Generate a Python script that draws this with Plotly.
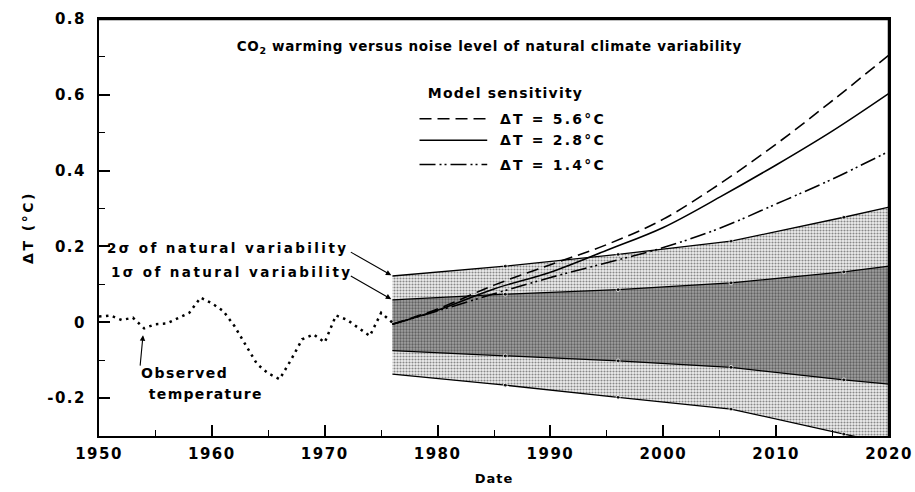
import plotly.graph_objects as go

# ---------------- data ----------------
obs_years = list(range(1950, 1977))
obs_temp = [0.015, 0.018, 0.006, 0.012, -0.016, -0.005, -0.003, 0.010, 0.025, 0.065,
            0.050, 0.030, -0.010, -0.060, -0.110, -0.135, -0.150, -0.100, -0.045, -0.032,
            -0.053, 0.018, 0.006, -0.015, -0.036, 0.025, -0.001]

band_years = [1976, 1986, 1996, 2006, 2016, 2020]
sig2_upper = [0.122, 0.148, 0.179, 0.214, 0.277, 0.304]
sig1_upper = [0.059, 0.074, 0.086, 0.104, 0.133, 0.148]
sig1_lower = [-0.075, -0.089, -0.102, -0.119, -0.152, -0.163]
sig2_lower = [-0.137, -0.166, -0.198, -0.229, -0.295, -0.320]

model_years = [1976, 1980, 1985, 1990, 1995, 2000, 2005, 2010, 2015, 2020]
dt_56 = [-0.005, 0.035, 0.098, 0.152, 0.205, 0.272, 0.365, 0.470, 0.585, 0.705]
dt_28 = [-0.005, 0.032, 0.088, 0.132, 0.190, 0.250, 0.330, 0.415, 0.505, 0.604]
dt_14 = [-0.005, 0.030, 0.075, 0.118, 0.157, 0.197, 0.248, 0.312, 0.378, 0.451]

model_labels = ["ΔT = 5.6°C", "ΔT = 2.8°C", "ΔT = 1.4°C"]
x_ticks = [1950, 1960, 1970, 1980, 1990, 2000, 2010, 2020]
y_ticks = [-0.2, 0, 0.2, 0.4, 0.6, 0.8]
y_ticklabels = ["-0.2", "0", "0.2", "0.4", "0.6", "0.8"]

FONT = "DejaVu Sans"
edge_marker = dict(size=[0, 4, 4, 4, 4, 0], color="black")
DASH_56 = "12px,6px"
DASH_28 = "solid"
DASH_14 = "16px,4px,2px,3px,2px,4px"

fig = go.Figure()

# 2-sigma band (light stipple)
fig.add_trace(go.Scatter(x=band_years, y=sig2_lower, mode="lines+markers",
                         line=dict(color="black", width=1.3), marker=edge_marker,
                         showlegend=False, hoverinfo="skip"))
fig.add_trace(go.Scatter(x=band_years, y=sig2_upper, mode="lines+markers",
                         line=dict(color="black", width=1.3), marker=edge_marker,
                         fill="tonexty",
                         fillpattern=dict(shape=".", size=3, solidity=0.4,
                                          fgcolor="#222222", bgcolor="#eeeeee"),
                         showlegend=False, hoverinfo="skip"))
# 1-sigma band (dark stipple)
fig.add_trace(go.Scatter(x=band_years, y=sig1_lower, mode="lines+markers",
                         line=dict(color="black", width=1.3), marker=edge_marker,
                         showlegend=False, hoverinfo="skip"))
fig.add_trace(go.Scatter(x=band_years, y=sig1_upper, mode="lines+markers",
                         line=dict(color="black", width=1.3), marker=edge_marker,
                         fill="tonexty",
                         fillpattern=dict(shape=".", size=3, solidity=0.45,
                                          fgcolor="#222222", bgcolor="#a0a0a0"),
                         showlegend=False, hoverinfo="skip"))

# observed temperature
fig.add_trace(go.Scatter(x=obs_years, y=obs_temp, mode="lines",
                         line=dict(color="black", width=2.5, dash="2.5px,4.5px"),
                         showlegend=False))

# model curves
for vals, dash, name in [(dt_56, DASH_56, model_labels[0]),
                         (dt_28, DASH_28, model_labels[1]),
                         (dt_14, DASH_14, model_labels[2])]:
    fig.add_trace(go.Scatter(x=model_years, y=vals, mode="lines", name=name,
                             line=dict(color="black", width=1.6, dash=dash, shape="spline"),
                             showlegend=False))

# ---------------- annotations ----------------
def txt(x, y, text, size):
    return dict(x=x, y=y, xref="x", yref="y", showarrow=False, text=text,
                font=dict(family=FONT, size=size, color="black", weight="bold"))

ann = []
ann.append(txt(1984.6, 0.726,
               "CO<sub>2</sub> warming versus noise level of natural climate variability", 13.5))
ann.append(txt(1986.06, 0.605, "Model sensitivity", 14))
leg_y = [0.537, 0.480, 0.416]
for lbl, yy in zip(model_labels, leg_y):
    ann.append(txt(1990.2, yy, lbl, 14))
ann.append(txt(1961.39, 0.195, "2σ of natural variability", 13.5))
ann.append(txt(1961.78, 0.133, "1σ of natural variability", 13.5))
ann.append(txt(1957.6, -0.134, "Observed", 14))
ann.append(txt(1959.5, -0.189, "temperature", 14))
# arrows
ann.append(dict(x=1975.9, y=0.124, xref="x", yref="y", text="", showarrow=True,
                ax=-42, ay=-24, arrowhead=2, arrowsize=1, arrowwidth=1.1, arrowcolor="black"))
ann.append(dict(x=1975.9, y=0.061, xref="x", yref="y", text="", showarrow=True,
                ax=-42, ay=-24, arrowhead=2, arrowsize=1, arrowwidth=1.1, arrowcolor="black"))
ann.append(dict(x=1953.9, y=-0.034, xref="x", yref="y", text="", showarrow=True,
                ax=-3, ay=32, arrowhead=2, arrowsize=1, arrowwidth=1.1, arrowcolor="black"))

# legend line samples + top/right frame
shapes = []
for dash, yy in zip([DASH_56, DASH_28, DASH_14], leg_y):
    shapes.append(dict(type="line", xref="x", yref="y", x0=1978.4, x1=1984.4, y0=yy, y1=yy,
                       line=dict(color="black", width=1.6, dash=dash)))
shapes.append(dict(type="line", xref="paper", yref="paper", x0=0, x1=1, y0=1, y1=1,
                   line=dict(color="black", width=2.5), layer="above"))
shapes.append(dict(type="line", xref="paper", yref="paper", x0=1, x1=1, y0=0, y1=1,
                   line=dict(color="black", width=2.5), layer="above"))

fig.update_layout(
    width=915, height=492,
    margin=dict(l=99, r=26, t=19, b=56, autoexpand=False),
    paper_bgcolor="white", plot_bgcolor="white",
    font=dict(family=FONT, size=14, color="black"),
    annotations=ann, shapes=shapes,
    showlegend=False,
)
fig.update_xaxes(range=[1950, 2020], tickvals=x_ticks, ticks="inside", ticklen=11,
                 tickwidth=1.5, tickcolor="black", ticklabelstandoff=3,
                 ticklabeloverflow="allow", automargin=False,
                 minor=dict(dtick=5, ticks="inside", ticklen=6, tickwidth=1.2, tickcolor="black"),
                 showline=True, linewidth=2, linecolor="black", mirror=True,
                 showgrid=False, zeroline=False,
                 tickfont=dict(family=FONT, size=15, weight="bold"),
                 title=dict(text="Date", font=dict(family=FONT, size=13, weight="bold"), standoff=12))
fig.update_yaxes(range=[-0.3, 0.8], tickvals=y_ticks, ticktext=y_ticklabels,
                 ticks="inside", ticklen=11, tickwidth=1.5, tickcolor="black", ticklabelstandoff=8,
                 ticklabeloverflow="allow", automargin=False,
                 minor=dict(dtick=0.1, tick0=0, ticks="inside", ticklen=6, tickwidth=1.2, tickcolor="black"),
                 showline=True, linewidth=2, linecolor="black", mirror=True,
                 showgrid=False, zeroline=False,
                 tickfont=dict(family=FONT, size=15, weight="bold"),
                 title=dict(text="ΔT (°C)", font=dict(family=FONT, size=14, weight="bold"), standoff=16))

# page without body margin + letter spacing mimicking the widely spaced lettering
spacing = {0: 0.7, 1: 1.2, 2: 2.2, 3: 2.2, 4: 2.2, 5: 2.4, 6: 2.4, 7: 1.5, 8: 1.3}
css = "body{margin:0}"
css += ".xtick text,.ytick text{letter-spacing:1.5px}"
css += ".g-xtitle text{letter-spacing:1px}.g-ytitle text{letter-spacing:2.5px}"
for i, ls in spacing.items():
    css += '.annotation[data-index="%d"] .annotation-text{letter-spacing:%spx}' % (i, ls)
post = ("var s=document.createElement('style');s.textContent=%r;"
        "document.head.appendChild(s);") % css

fig.write_html("out.html", post_script=post, config={"displayModeBar": False})
